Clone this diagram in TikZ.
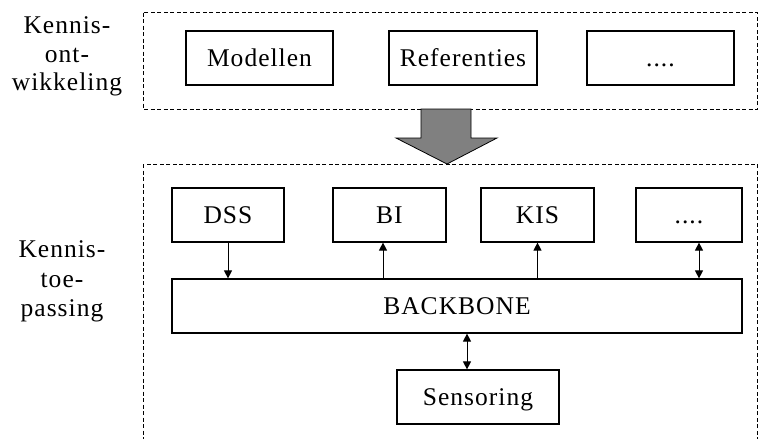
\documentclass[tikz,border=0pt]{standalone}
\usepackage{fontspec}
\setmainfont{Liberation Serif}[LetterSpace=4]
\usetikzlibrary{arrows.meta}

\begin{document}
\begin{tikzpicture}[x=1pt,y=-1pt,
  txt/.style={font=\fontsize{25.5}{30}\selectfont},
  box/.style={txt, draw, line width=1.2pt, minimum height=54pt, inner sep=0pt,
              text height=16.9pt, text depth=0pt},
  zone/.style={draw, line width=0.8pt, dash pattern=on 4pt off 2.5pt},
  sidelabel/.style={txt, anchor=base},
  tip/.style={Triangle[width=8pt,length=8pt]},
  link/.style={line width=1pt, -{Triangle[width=8pt,length=8pt]}},
  duplex/.style={line width=1pt, {Triangle[width=8pt,length=8pt]}-{Triangle[width=8pt,length=8pt]}},
  blockarrow/.style={fill=black!50, draw=black, line width=0.8pt, line join=miter}
]
\useasboundingbox (0,0) rectangle (758,439);

% dashed zones
\draw[zone] (143,12.5) rectangle (757.5,109);
\draw[zone] (143,164) rectangle (757.5,460);

% side labels
\node[sidelabel] (ka) at (67,33) {Kennis-};
\node[sidelabel] (kb) at (67,62) {ont-};
\node[sidelabel] (kc) at (67,90) {wikkeling};
\node[sidelabel] (ta) at (62,257) {Kennis-};
\node[sidelabel] (tb) at (62,287) {toe-};
\node[sidelabel] (tc) at (62,316) {passing};

% knowledge development boxes
\node[box, minimum width=147pt] (mod) at (259.5,58) {Modellen};
\node[box, minimum width=148pt] (ref) at (463,58) {Referenties};
\node[box, minimum width=147pt] (dev) at (660.5,58) {....};

% block arrow between the zones
\draw[blockarrow] (421,109) -- (471,109) -- (471,138) -- (497,138) -- (447,164)
  -- (396,138) -- (421,138) -- cycle;

% application boxes
\node[box, minimum width=112pt] (dss) at (228,215) {DSS};
\node[box, minimum width=113pt] (bi)  at (389.5,215) {BI};
\node[box, minimum width=113pt] (kis) at (537.5,215) {KIS};
\node[box, minimum width=106pt] (app) at (689,215) {....};

\node[box, minimum width=570pt] (bb) at (457,306) {BACKBONE};
\node[box, minimum width=162pt] (sens) at (478,397) {Sensoring};

% connectors
\draw[link] (dss.south) -- (dss.south |- bb.north);
\draw[link] ([xshift=-6.5pt]bi.south |- bb.north) -- ([xshift=-6.5pt]bi.south);
\draw[link] (kis.south |- bb.north) -- (kis.south);
\draw[duplex] ([xshift=10pt]app.south) -- ([xshift=10pt]app.south |- bb.north);
\draw[duplex] ([xshift=-11pt]sens.north |- bb.south) -- ([xshift=-11pt]sens.north);
\end{tikzpicture}
\end{document}
